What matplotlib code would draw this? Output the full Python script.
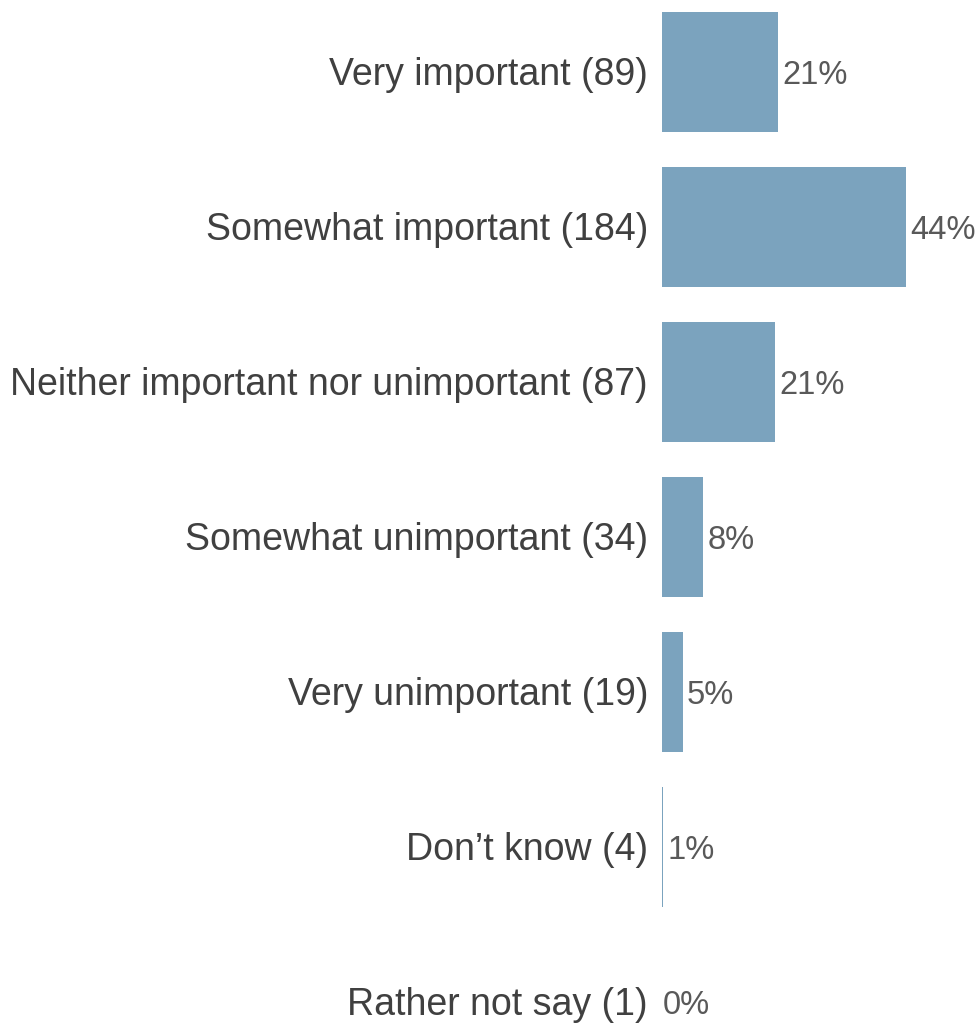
import matplotlib
matplotlib.use("Agg")
import matplotlib.pyplot as plt

plt.rcParams['font.family'] = ['Liberation Sans', 'DejaVu Sans']

categories = ["Very important (89)", "Somewhat important (184)",
              "Neither important nor unimportant (87)", "Somewhat unimportant (34)",
              "Very unimportant (19)", "Don\u2019t know (4)", "Rather not say (1)"]
pct = [21.3, 44.0, 20.8, 8.1, 4.5, 0.96, 0.24]
pct_labels = ["21%", "44%", "21%", "8%", "5%", "1%", "0%"]

fig = plt.figure(figsize=(9.79, 10.23), dpi=100)
ax = fig.add_axes([662 / 979, 0, 317 / 979, 1])

y = list(range(len(categories)))
ax.barh(y, pct, height=0.775, color='#7BA3BE')

xmin = 0.85
ax.set_xlim(xmin, xmin + 317 / 5.65)
ax.set_ylim((1023 - 72) / 155, -72 / 155)

for i in y:
    ax.annotate(pct_labels[i], xy=(pct[i], i), xytext=(3.2, -2.2),
                textcoords='offset points', va='center', ha='left',
                fontsize=23.5, color='#595959', annotation_clip=False)
    ax.annotate(categories[i], xy=(xmin, i), xytext=(-10, -2.5),
                textcoords='offset points', va='center', ha='right',
                fontsize=27, color='#404040', annotation_clip=False)

ax.axis('off')
fig.savefig("out.png", dpi=100)
